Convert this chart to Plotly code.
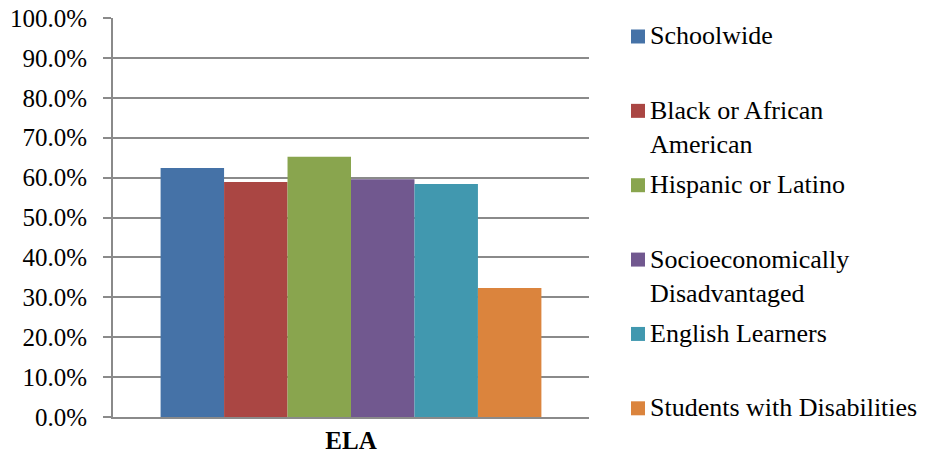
import plotly.graph_objects as go

# Proficiency rates by student group, ELA
categories = ["ELA"]
groups = [
    "Schoolwide",
    "Black or African American",
    "Hispanic or Latino",
    "Socioeconomically Disadvantaged",
    "English Learners",
    "Students with Disabilities",
]
legend_labels = [
    "Schoolwide",
    "Black or African<br>American",
    "Hispanic or Latino",
    "Socioeconomically<br>Disadvantaged",
    "English Learners",
    "Students with Disabilities",
]
values = [0.624, 0.589, 0.652, 0.596, 0.584, 0.323]
colors = ["#4572A7", "#AA4643", "#89A54E", "#71588F", "#4198AF", "#DB843D"]
tick_values = [i / 10 for i in range(11)]

FONT = "Times New Roman"
BOLD_FONT = "Liberation Serif"
W, H = 927, 453
L, R, T, B = 113, 338, 17.5, 36.3
plot_w = W - L - R
plot_h = H - T - B

fig = go.Figure()
for name, val, col in zip(groups, values, colors):
    fig.add_trace(go.Bar(
        x=categories, y=[val], name=name, marker_color=col,
        marker_line_width=0, showlegend=False,
    ))


def px_to_paper(xp, yp):
    return (xp - L) / plot_w, (H - B - yp) / plot_h


# Hand-built legend: evenly spaced entries to the right of the plot
first_line_y = 36.0
step = 74.4
for i, (lab, col) in enumerate(zip(legend_labels, colors)):
    yc = first_line_y + i * step
    x0, y0 = px_to_paper(631, yc + 7)
    x1, y1 = px_to_paper(645, yc - 7)
    fig.add_shape(type="rect", xref="paper", yref="paper",
                  x0=x0, x1=x1, y0=y0, y1=y1,
                  fillcolor=col, line_width=0)
    xa, ya = px_to_paper(648, yc - 17)
    fig.add_annotation(xref="paper", yref="paper", x=xa, y=ya,
                       xanchor="left", yanchor="top", align="left",
                       text=lab, showarrow=False,
                       font=dict(family=FONT, size=26, color="black",
                                 weight="normal"))

fig.update_layout(
    width=W, height=H,
    margin=dict(l=L, r=R, t=T, b=B, pad=0, autoexpand=False),
    paper_bgcolor="white", plot_bgcolor="white",
    barmode="group", bargap=0.2, bargroupgap=0,
    showlegend=False,
)
fig.update_xaxes(
    automargin=False,
    showline=True, linecolor="#8a8a8a", linewidth=2,
    ticks="", showgrid=False,
    tickfont=dict(family=BOLD_FONT, size=25, color="black", weight="bold"),
    ticklabelstandoff=0,
)
fig.update_yaxes(
    automargin=False,
    range=[0, 1], tickvals=tick_values, tickformat=".1%",
    showline=True, linecolor="#8a8a8a", linewidth=2,
    ticks="outside", ticklen=8, tickwidth=2, tickcolor="#8a8a8a",
    showgrid=True, gridcolor="#8a8a8a", gridwidth=2,
    zeroline=False, ticklabelstandoff=11,
    tickfont=dict(family=FONT, size=25, color="black", weight="normal"),
)

fig.write_html("out.html")
